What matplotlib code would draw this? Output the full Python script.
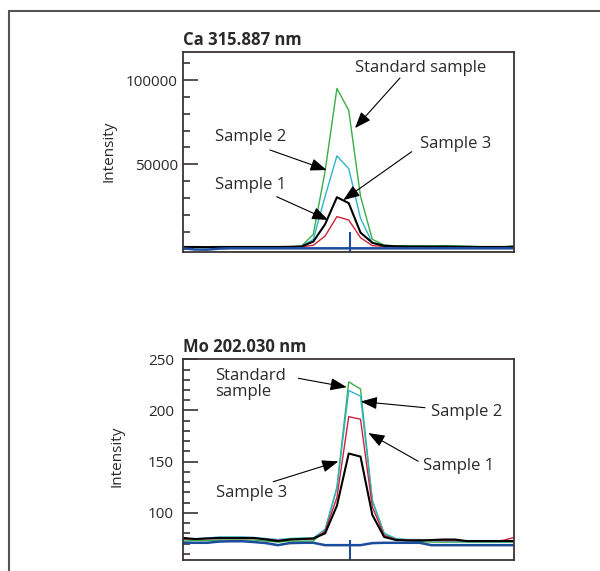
import numpy as np
import matplotlib.pyplot as plt
from matplotlib.patches import Rectangle
from matplotlib.ticker import MultipleLocator

plt.rcParams['font.family'] = ['Open Sans', 'DejaVu Sans']
plt.rcParams['text.color'] = '#2a2a2a'
plt.rcParams['axes.labelcolor'] = '#2a2a2a'
plt.rcParams['ytick.labelcolor'] = '#2a2a2a'

# scan points (29 per window)
pos = np.arange(29)
center_pos = 14.13

# Ca 315.887 nm
ca_standard = [900, 800, 700, 800, 900, 900, 900, 900, 900, 1000, 1500, 8500, 46000, 95000, 82000,
               31000, 5500, 2200, 1600, 1500, 1500, 1600, 1800, 1700, 1400, 1200, 1100, 1000, 1800]
ca_sample2 = [900, 800, 700, 800, 900, 900, 900, 900, 900, 1000, 1300, 5500, 31000, 55000, 47500,
              18000, 3300, 1600, 1300, 1200, 1200, 1200, 1200, 1100, 1100, 1000, 1000, 1000, 1000]
ca_sample3 = [1000, 1000, 900, 1000, 1000, 1000, 1000, 1000, 1000, 1100, 1300, 4200, 14500, 30500, 27000,
              9500, 3500, 1700, 1400, 1300, 1300, 1200, 1200, 1100, 1100, 1000, 1000, 1000, 1000]
ca_sample1 = [900, 900, 800, 900, 900, 900, 900, 900, 900, 1000, 1100, 2000, 7500, 19000, 17000,
              6500, 1800, 1300, 1200, 1100, 1100, 1100, 1000, 1000, 1000, 1000, 1000, 1000, 1000]
ca_blank = [200, -500, -600, 0, 200, 200, 200, 200, 200, 200, 200, 200, 200, 200, 200,
            200, 200, 200, 200, 200, 200, 200, 200, 200, 200, 200, 200, 200, 200]
ca_ticks = [50000, 100000]

# Mo 202.030 nm
mo_standard = [72.5, 73, 73, 73.5, 73.5, 73.5, 73.5, 72.5, 71.5, 72.5, 72.5, 72.5, 83, 125, 228,
               221, 112, 80, 74, 73, 72, 71.5, 71.5, 71.5, 71.5, 71.5, 71.5, 71.5, 71.5]
mo_sample2 = [74, 74.5, 75.5, 76.5, 76.5, 76.5, 76, 75, 74, 75, 75.5, 75.5, 84, 124, 219.5,
              214, 112, 80, 75, 74, 74, 73, 72.5, 72, 72, 72, 72, 72, 72]
mo_sample1 = [74.5, 74.5, 75, 75, 75, 75, 75, 74.5, 73, 74, 74.5, 74.5, 82, 115, 194,
              191.5, 106, 78, 74, 73.5, 73.5, 73, 73, 73, 72.5, 72.5, 72.5, 73, 76]
mo_sample3 = [75.5, 74.5, 75, 75.5, 75.5, 75.5, 75.5, 74, 72.5, 74, 74.5, 75, 80, 107, 158,
              155, 98, 76.5, 73.5, 73, 73, 73.5, 74, 74, 72.5, 72.5, 72.5, 72.5, 72.5]
mo_blank = [70.8, 70.8, 70.8, 72, 72.3, 72.3, 71.5, 70.5, 68.5, 70.5, 70.8, 70.8, 68.5, 68.5, 68.5,
            68.5, 70.5, 70.8, 70.8, 70.8, 70.8, 68.5, 68.5, 68.5, 68.5, 68.5, 68.5, 68.5, 68.5]
mo_ticks = [100, 150, 200, 250]

GREEN = '#3aae48'
CYAN = '#2db6c9'
RED = '#d0223a'
BLUE = '#1c4c9c'
SPINE = '#3a3434'

fig = plt.figure(figsize=(6, 5.71), dpi=100)
ax1 = fig.add_axes([0.3058, 0.5592, 0.5508, 0.3503])
ax2 = fig.add_axes([0.3058, 0.01926, 0.5508, 0.3515])

# frame around the whole figure (only top/left visible)
fig.add_artist(Rectangle((8.5 / 600, -0.5), 2, 1.5 - 10.7 / 571, transform=fig.transFigure,
                         fill=False, edgecolor='#555555', lw=1.5))


def draw(ax, std, s2, s1, s3, blank):
    ax.plot(pos, std, color=GREEN, lw=1.0)
    ax.plot(pos, s2, color=CYAN, lw=1.0)
    ax.plot(pos, s1, color=RED, lw=1.0)
    ax.plot(pos, s3, color='black', lw=1.5)
    ax.plot(pos, blank, color=BLUE, lw=1.8)
    ax.axvline(center_pos, ymin=0, ymax=0.095, color=BLUE, lw=1.5)
    ax.set_xlim(0, 28)
    ax.set_xticks([])
    for s in ax.spines.values():
        s.set_color(SPINE)
        s.set_linewidth(1.3)
    ax.tick_params(axis='y', which='major', direction='in', length=11, width=1.2,
                   color=SPINE, labelsize=11, pad=4)
    ax.tick_params(axis='y', which='minor', direction='in', length=5, width=1.2, color=SPINE)
    ax.set_ylabel('Intensity', fontsize=11)


def arrow(ax, tip, tail):
    ax.annotate('', xy=tip, xycoords='data', xytext=tail, textcoords='axes fraction',
                arrowprops=dict(arrowstyle='-|>,head_length=1.0,head_width=0.38',
                                mutation_scale=10, color='black', lw=0.8,
                                shrinkA=0, shrinkB=0))


draw(ax1, ca_standard, ca_sample2, ca_sample1, ca_sample3, ca_blank)
ax1.set_ylim(-1800, 116800)
ax1.set_yticks(ca_ticks)
ax1.yaxis.set_minor_locator(MultipleLocator(10000))
ax1.yaxis.set_label_coords(-0.204, 0.5)
ax1.set_title('Ca 315.887 nm', loc='left', fontweight='bold', fontsize=12, pad=5)

ax1.text(0.7186, 0.9185, 'Standard sample', transform=ax1.transAxes, ha='center', va='center', fontsize=12)
ax1.text(0.2042, 0.5735, 'Sample 2', transform=ax1.transAxes, ha='center', va='center', fontsize=12)
ax1.text(0.8245, 0.5385, 'Sample 3', transform=ax1.transAxes, ha='center', va='center', fontsize=12)
ax1.text(0.2042, 0.3335, 'Sample 1', transform=ax1.transAxes, ha='center', va='center', fontsize=12)
arrow(ax1, (14.53, 71500), (0.6551, 0.8685))
arrow(ax1, (12.14, 46600), (0.2617, 0.5085))
arrow(ax1, (13.54, 28800), (0.6905, 0.5))
arrow(ax1, (12.27, 17000), (0.282, 0.275))

draw(ax2, mo_standard, mo_sample2, mo_sample1, mo_sample3, mo_blank)
ax2.set_ylim(54, 250)
ax2.set_yticks(mo_ticks)
ax2.yaxis.set_minor_locator(MultipleLocator(10))
ax2.tick_params(axis='y', which='major', pad=7)
ax2.yaxis.set_label_coords(-0.177, 0.518)
ax2.set_title('Mo 202.030 nm', loc='left', fontweight='bold', fontsize=12, pad=5)

ax2.text(0.0953, 0.877, 'Standard\nsample', transform=ax2.transAxes, ha='left', va='center',
         fontsize=12, linespacing=1.0)
ax2.text(0.8578, 0.7389, 'Sample 2', transform=ax2.transAxes, ha='center', va='center', fontsize=12)
ax2.text(0.8336, 0.4684, 'Sample 1', transform=ax2.transAxes, ha='center', va='center', fontsize=12)
ax2.text(0.2073, 0.3338, 'Sample 3', transform=ax2.transAxes, ha='center', va='center', fontsize=12)
arrow(ax2, (13.83, 222.8), (0.3474, 0.9053))
arrow(ax2, (15.02, 208.8), (0.7307, 0.7588))
arrow(ax2, (15.66, 178), (0.7104, 0.4918))
arrow(ax2, (13.12, 150.3), (0.2717, 0.3901))

fig.savefig('out.png', dpi=100)
